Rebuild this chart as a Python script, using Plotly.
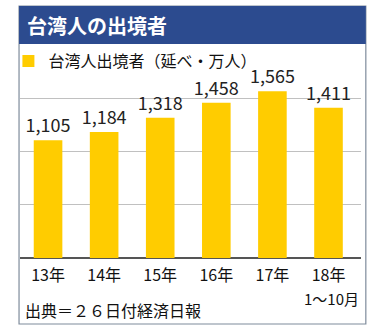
import plotly.graph_objects as go

# Taiwanese outbound travellers (10,000 persons)
years = ["13年", "14年", "15年", "16年", "17年", "18年"]
period_notes = ["", "", "", "", "", "1〜10月"]
travellers = [1105, 1184, 1318, 1458, 1565, 1411]
labels = ["1,105", "1,184", "1,318", "1,458", "1,565", "1,411"]

W, H = 376, 327
ML, MR, MT, MB = 8, 15, 77, 69
PW, PH = W - ML - MR, H - MT - MB

FONT = "Noto Sans CJK JP, Noto Sans, sans-serif"
BLUE = "#2C4B8F"
YELLOW = "#FFCC00"


def px_x(p):
    return (p - ML) / PW


def px_y(p):
    return (H - MB - p) / PH


fig = go.Figure()
fig.add_trace(go.Bar(
    x=years,
    y=travellers,
    name="台湾人出境者（延べ・万人）",
    marker=dict(color=YELLOW, line=dict(width=0)),
    text=labels,
    textposition="outside",
    constraintext="none",
    textfont=dict(size=18, color="#222222", family=FONT),
    cliponaxis=False,
    width=0.51,
))

shapes = [
    # outer frame
    dict(type="rect", xref="paper", yref="paper",
         x0=px_x(7), x1=px_x(366), y0=px_y(324), y1=px_y(6),
         line=dict(color="#7F8C9C", width=1.2), fillcolor="rgba(0,0,0,0)", layer="below"),
    # title band
    dict(type="rect", xref="paper", yref="paper",
         x0=px_x(7), x1=px_x(366), y0=px_y(44), y1=px_y(6),
         line=dict(width=0), fillcolor=BLUE, layer="below"),
]

annotations = [
    dict(text="<b>台湾人の出境者</b>", xref="paper", yref="paper",
         x=px_x(13), y=px_y(25), xanchor="left", yanchor="middle",
         showarrow=False, font=dict(size=20, color="white", family=FONT)),
    dict(text="出典＝２６日付経済日報", xref="paper", yref="paper",
         x=px_x(11), y=px_y(310), xanchor="left", yanchor="middle",
         showarrow=False, font=dict(size=16, color="#111111", family=FONT)),
]

# period notes sit directly under their year tick label
for yr, note in zip(years, period_notes):
    if note:
        annotations.append(dict(
            text=note, xref="x", yref="paper", x=yr, y=px_y(298),
            xanchor="center", yanchor="middle", xshift=3, showarrow=False,
            font=dict(size=15, color="#111111", family=FONT)))

fig.update_layout(
    width=W, height=H,
    margin=dict(l=ML, r=MR, t=MT, b=MB, pad=0),
    paper_bgcolor="white", plot_bgcolor="white",
    font=dict(family=FONT, color="#111111"),
    bargap=0.49,
    showlegend=True,
    legend=dict(x=px_x(-4), y=px_y(44), xanchor="left", yanchor="top",
                font=dict(size=16, color="#111111", family=FONT),
                bgcolor="rgba(0,0,0,0)", itemclick=False),
    shapes=shapes,
    annotations=annotations,
)
fig.update_xaxes(
    showgrid=False, showline=False, zeroline=False,
    tickfont=dict(size=16, color="#111111", family=FONT),
    ticks="", ticklabelstandoff=6,
)
fig.update_yaxes(
    range=[0, 1700], tickvals=[500, 1000, 1500], showticklabels=False,
    showgrid=True, gridcolor="#C0C0C0", gridwidth=1,
    zeroline=True, zerolinecolor="#555555", zerolinewidth=1.5,
    showline=False,
)

fig.write_html("out.html")
